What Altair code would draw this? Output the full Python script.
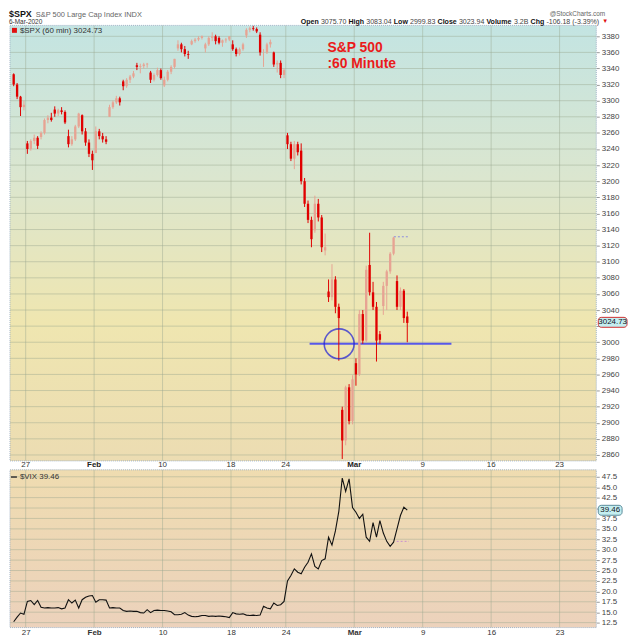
import altair as alt
import pandas as pd

# ---------------- data ----------------
days = ["Jan 24", "Jan 27", "Jan 28", "Jan 29", "Jan 30", "Jan 31",
        "Feb 3", "Feb 4", "Feb 5", "Feb 6", "Feb 7",
        "Feb 10", "Feb 11", "Feb 12", "Feb 13", "Feb 14",
        "Feb 18", "Feb 19", "Feb 20", "Feb 21",
        "Feb 24", "Feb 25", "Feb 26", "Feb 27", "Feb 28",
        "Mar 2", "Mar 3", "Mar 4", "Mar 5"]
bars_per_day = 4

spx_open = [3333, 3320, 3305, 3292,  3247, 3240, 3250, 3254,  3255, 3260, 3276, 3279,
            3289, 3284, 3288, 3286,  3256, 3246, 3252, 3268,  3282, 3262, 3248, 3234,
            3235, 3262, 3256, 3252,  3280, 3292, 3298, 3303,  3324, 3318, 3326, 3330,
            3344, 3342, 3343, 3345,  3335, 3326, 3332, 3338,  3319, 3326, 3336, 3342,
            3365, 3370, 3364, 3358,  3370, 3374, 3376, 3378,  3365, 3370, 3378, 3380,
            3378, 3372, 3375, 3376,  3370, 3364, 3358, 3364,  3381, 3388, 3390, 3389,
            3382, 3360, 3360, 3370,  3360, 3345, 3347, 3332,  3257, 3246, 3228, 3246,
            3238, 3200, 3172, 3152,  3139, 3172, 3155, 3114,  3063, 3056, 3078, 3044,
            2916, 2878, 2944, 2902,  2974, 2960, 3035, 3002,  3096, 3062, 3044, 3010,
            3045, 3070, 3088, 3110,  3076, 3044, 3064, 3032]
spx_high = [3334, 3322, 3306, 3300,  3250, 3252, 3258, 3256,  3262, 3278, 3282, 3285,
            3293, 3290, 3292, 3288,  3264, 3256, 3270, 3285,  3283, 3266, 3252, 3238,
            3268, 3265, 3260, 3256,  3295, 3300, 3306, 3305,  3326, 3328, 3332, 3337,
            3347, 3346, 3347, 3347,  3337, 3334, 3341, 3340,  3330, 3338, 3344, 3352,
            3375, 3372, 3368, 3362,  3376, 3378, 3380, 3381,  3372, 3380, 3385, 3382,
            3380, 3376, 3378, 3380,  3375, 3366, 3366, 3372,  3390, 3392, 3393, 3391,
            3385, 3364, 3372, 3376,  3361, 3350, 3350, 3340,  3260, 3249, 3250, 3249,
            3247, 3204, 3176, 3156,  3182, 3178, 3158, 3135,  3078, 3097, 3082, 3048,
            2920, 2946, 2948, 2959,  2980, 3040, 3040, 3095,  3136, 3075, 3050, 3014,
            3075, 3090, 3112, 3131,  3083, 3068, 3066, 3038]
spx_low = [3318, 3302, 3281, 3288,  3234, 3238, 3246, 3240,  3252, 3258, 3272, 3274,
           3280, 3281, 3283, 3271,  3242, 3244, 3250, 3266,  3258, 3244, 3230, 3214,
           3235, 3252, 3248, 3246,  3280, 3290, 3296, 3294,  3313, 3316, 3322, 3328,
           3338, 3334, 3340, 3341,  3322, 3324, 3330, 3326,  3317, 3324, 3333, 3340,
           3362, 3360, 3355, 3352,  3369, 3372, 3374, 3376,  3360, 3368, 3374, 3370,
           3370, 3367, 3372, 3374,  3362, 3355, 3356, 3362,  3378, 3385, 3387, 3384,
           3356, 3342, 3358, 3366,  3342, 3335, 3328, 3328,  3240, 3225, 3215, 3232,
           3196, 3168, 3148, 3118,  3136, 3150, 3112, 3108,  3050, 3052, 3036, 2977,
           2855, 2872, 2898, 2898,  2946, 2958, 2998, 3000,  3058, 3040, 2976, 2998,
           3034, 3040, 3085, 3108,  3040, 3040, 3024, 3000]
spx_close = [3320, 3305, 3292, 3295,  3240, 3250, 3254, 3244,  3260, 3276, 3279, 3276,
             3284, 3288, 3286, 3273,  3246, 3252, 3268, 3284,  3262, 3248, 3234, 3226,
             3262, 3256, 3252, 3249,  3292, 3298, 3303, 3298,  3318, 3326, 3330, 3334,
             3342, 3343, 3345, 3346,  3326, 3332, 3338, 3328,  3326, 3336, 3342, 3352,
             3370, 3364, 3358, 3357,  3374, 3376, 3378, 3380,  3370, 3378, 3380, 3374,
             3372, 3375, 3376, 3380,  3364, 3358, 3364, 3370,  3388, 3390, 3389, 3386,
             3360, 3360, 3370, 3373,  3345, 3347, 3332, 3338,  3246, 3228, 3246, 3236,
             3200, 3172, 3152, 3128,  3172, 3155, 3118, 3118,  3056, 3078, 3044, 3030,
             2878, 2944, 2902, 2954,  2960, 3035, 3002, 3090,  3062, 3044, 3002, 3003,
             3070, 3088, 3110, 3130,  3044, 3064, 3030, 3024]
vix = [12.7, 13.8, 14.8, 14.5,  17.6, 17.8, 16.8, 17.8,  16.2, 16.0, 16.1, 16.0,
       16.0, 16.1, 15.8, 16.0,  18.0, 17.2, 17.9, 16.0,  18.0, 18.6, 18.9, 19.0,
       17.4, 18.0, 18.0, 17.9,  16.0, 16.1, 16.0, 16.0,  15.4, 15.2, 15.3, 15.2,
       15.2, 14.9, 14.8, 15.6,  14.9, 15.4, 15.5, 15.4,  15.4, 15.3, 15.1, 14.4,
       14.4, 14.5, 14.9, 14.3,  14.0, 13.9, 14.0, 14.2,  14.2, 14.0, 14.1, 14.0,
       14.1, 14.0, 13.9, 13.7,  14.9, 14.6, 14.5, 14.6,  14.3, 14.2, 14.3, 14.2,
       14.3, 16.4, 16.0, 15.8,  17.2, 16.6, 16.8, 17.6,  22.5, 23.8, 25.4, 24.6,
       24.2, 25.8, 27.0, 29.0,  26.0, 25.4, 27.4, 27.8,  33.0, 31.1, 34.5, 39.2,
       47.2, 44.0, 47.0, 40.1,  39.0, 37.5, 38.5, 33.0,  32.0, 36.5, 33.0, 37.0,
       34.0, 32.0, 30.8, 31.8,  35.0, 38.2, 40.2, 39.5]

x_tick_days = [1, 6, 11, 16, 20, 25, 30, 35, 40]
x_tick_labels = ["27", "Feb", "10", "18", "24", "Mar", "9", "16", "23"]
spx_ticks = [2860, 2880, 2900, 2920, 2940, 2960, 2980, 3000, 3020, 3040, 3060, 3080,
             3100, 3120, 3140, 3160, 3180, 3200, 3220, 3240, 3260, 3280, 3300, 3320,
             3340, 3360, 3380]
vix_ticks = [12.5, 15.0, 17.5, 20.0, 22.5, 25.0, 27.5, 30.0, 32.5, 35.0, 37.5,
             40.0, 42.5, 45.0, 47.5]
spx_last = 3024.73
vix_last = 39.46
support_level = 2998
support_from, support_to = 21.74, 32.1
circle_day = 23.9
high_mark = 3131
vix_mark = 32.0
quote_parts = [("Open", True), ("3075.70", False), ("High", True), ("3083.04", False),
               ("Low", True), ("2999.83", False), ("Close", True), ("3023.94", False),
               ("Volume", True), ("3.2B", False), ("Chg", True), ("-106.18 (-3.39%)", False)]

# ---------------- layout ----------------
W = 591
H_TOP = 439
VIX_TOP = 448
H = 607
FONT = "Liberation Sans"
GRID = "#9aa88f"

rows = []
for i in range(len(spx_close)):
    d, k = divmod(i, bars_per_day)
    o, c = spx_open[i], spx_close[i]
    rows.append({
        "xc": d + (k + 0.5) / bars_per_day,
        "xa": d + k / bars_per_day + 0.04,
        "xb": d + (k + 1) / bars_per_day - 0.04,
        "low": spx_low[i], "high": spx_high[i],
        "lo": min(o, c), "hi": max(o, c),
        "dir": "down" if c < o else "up",
        "vix": vix[i],
    })
df = pd.DataFrame(rows)
one = pd.DataFrame({"a": [0]})

xs = alt.Scale(domain=[-0.1449, 42.681], nice=False, zero=False)
label_expr = "".join(f"datum.value == {d} ? '{l}' : " for d, l in zip(x_tick_days, x_tick_labels)) + "''"
x_axis = alt.Axis(values=x_tick_days, labelExpr=label_expr, grid=False, ticks=False, domain=False,
                  title=None, labelFont=FONT, labelFontSize=8, labelColor="#333", labelPadding=1,
                  labelFontWeight={"condition": {"test": "datum.value == 6 || datum.value == 25", "value": "bold"},
                                   "value": "normal"})
spx_scale = alt.Scale(domain=[2852.61, 3393.55], range=[H_TOP, 0], nice=False, zero=False)
vix_scale = alt.Scale(domain=[11.31, 49.167], range=[H, VIX_TOP], nice=False, zero=False)
spx_axis = alt.Axis(orient="right", values=spx_ticks, format="d", grid=False, domain=False,
                    labelExpr="datum.value == 3020 ? '' : datum.label",
                    tickSize=3, tickColor="#999", labelFont=FONT, labelFontSize=8, labelColor="#444",
                    labelPadding=2, title=None)
vix_axis = alt.Axis(orient="right", values=vix_ticks, format=".1f", grid=False, domain=False,
                    labelExpr="datum.value == 40 ? '' : datum.label",
                    tickSize=3, tickColor="#999", labelFont=FONT, labelFontSize=8, labelColor="#444",
                    labelPadding=2, title=None)
color_scale = alt.Scale(domain=["down", "up"], range=["#e00000", "#e7a393"])


def X(field):
    return alt.X(f"{field}:Q", scale=xs, axis=x_axis)


def txt(s, x, y, size=8, weight="normal", color="#333", align="left", baseline="middle"):
    return alt.Chart(one).mark_text(text=s, fontSize=size, fontWeight=weight, color=color, align=align,
                                    baseline=baseline, font=FONT).encode(x=alt.value(x), y=alt.value(y))


def box(x0, x1, y0, y1, **kw):
    return alt.Chart(one).mark_rect(**kw).encode(x=alt.value(x0), x2=alt.value(x1), y=alt.value(y0), y2=alt.value(y1))


# approximate Arial advance widths (em) for laying out the quote line
REG = {".": 0.278, " ": 0.278, "-": 0.333, "(": 0.333, ")": 0.333, "%": 0.889, "B": 0.667}
BOLD = {"O": 0.778, "p": 0.611, "e": 0.556, "n": 0.611, "H": 0.722, "i": 0.278, "g": 0.611,
        "h": 0.611, "L": 0.611, "o": 0.611, "w": 0.778, "C": 0.722, "l": 0.278, "s": 0.556,
        "V": 0.667, "u": 0.611, "m": 0.889}


def text_width(s, bold, size):
    table = BOLD if bold else REG
    return sum(table.get(ch, 0.556) for ch in s) * size


top_bg = box(0, W, 0, H_TOP, color=alt.Gradient(
    gradient="linear", x1=0, x2=0, y1=0, y2=1,
    stops=[alt.GradientStop(color="#c3e4e2", offset=0),
           alt.GradientStop(color="#dbe6cf", offset=0.35),
           alt.GradientStop(color="#efe6b0", offset=0.68),
           alt.GradientStop(color="#ecdcb2", offset=1)]))
vix_bg = box(0, W, VIX_TOP, H, color=alt.Gradient(
    gradient="linear", x1=0, x2=0, y1=0, y2=1,
    stops=[alt.GradientStop(color="#efdcb0", offset=0),
           alt.GradientStop(color="#ecd2bc", offset=1)]))

grid_df = pd.DataFrame({"d": x_tick_days, "lab": x_tick_labels})
xgrid_top = alt.Chart(grid_df).mark_rule(color=GRID, opacity=0.45).encode(
    x=X("d"), y=alt.value(0), y2=alt.value(H_TOP))
xgrid_vix = alt.Chart(grid_df).mark_rule(color=GRID, opacity=0.45).encode(
    x=X("d"), y=alt.value(VIX_TOP), y2=alt.value(H))
mid_norm = alt.Chart(grid_df).transform_filter("datum.lab != 'Feb' && datum.lab != 'Mar'").mark_text(
    font=FONT, fontSize=8, color="#333", baseline="middle").encode(x=X("d"), y=alt.value(443), text="lab:N")
mid_bold = alt.Chart(grid_df).transform_filter("datum.lab == 'Feb' || datum.lab == 'Mar'").mark_text(
    font=FONT, fontSize=8, fontWeight="bold", color="#222", baseline="middle").encode(
    x=X("d"), y=alt.value(443), text="lab:N")

# ---------------- SPX panel ----------------
spx_grid = alt.Chart(pd.DataFrame({"t": spx_ticks})).mark_rule(color=GRID, opacity=0.45).encode(
    y=alt.Y("t:Q", scale=spx_scale, axis=spx_axis), x=alt.value(0), x2=alt.value(W))
wicks = alt.Chart(df).mark_rule(strokeWidth=1).encode(
    x=X("xc"), y=alt.Y("low:Q", scale=spx_scale, axis=spx_axis), y2="high:Q",
    color=alt.Color("dir:N", scale=color_scale, legend=None))
bodies = alt.Chart(df).mark_rect().encode(
    x=X("xa"), x2="xb", y=alt.Y("lo:Q", scale=spx_scale, axis=spx_axis), y2="hi:Q",
    color=alt.Color("dir:N", scale=color_scale, legend=None))
support = alt.Chart(pd.DataFrame({"a": [support_from], "b": [support_to], "p": [support_level]})).mark_rule(
    color="#5858ea", strokeWidth=2).encode(x=X("a"), x2="b", y=alt.Y("p:Q", scale=spx_scale, axis=spx_axis))
circle = alt.Chart(pd.DataFrame({"d": [circle_day], "p": [support_level]})).mark_point(
    shape="circle", size=908, filled=False, color="#1c1cd8", strokeWidth=1.6).encode(
    x=X("d"), y=alt.Y("p:Q", scale=spx_scale, axis=spx_axis))
hi_mark = alt.Chart(pd.DataFrame({"a": [27.9], "b": [29.0], "p": [high_mark]})).mark_rule(
    color="#8c8ce0", strokeDash=[2, 2]).encode(x=X("a"), x2="b", y=alt.Y("p:Q", scale=spx_scale, axis=spx_axis))
note = alt.Chart(pd.DataFrame({"d": [23.04, 23.04], "p": [3366, 3345.5], "s": ["S&P 500", ":60 Minute"]})).mark_text(
    font=FONT, fontSize=14, fontWeight="bold", color="#ea1a1a", align="left", baseline="middle").encode(
    x=X("d"), y=alt.Y("p:Q", scale=spx_scale, axis=spx_axis), text="s:N")
tag_df = pd.DataFrame({"p": [spx_last], "s": [f"{spx_last:.2f}"]})
spx_tag = alt.Chart(tag_df).mark_rect(yOffset=-5, y2Offset=5, fill="#c4eef0", stroke="#d03030",
                                      strokeWidth=1, cornerRadius=3).encode(
    x=alt.value(W + 2), x2=alt.value(W + 31), y=alt.Y("p:Q", scale=spx_scale, axis=spx_axis), y2="p:Q")
spx_tag_t = alt.Chart(tag_df).mark_text(font=FONT, fontSize=8, color="#112", align="center", baseline="middle").encode(
    x=alt.value(W + 16.5), y=alt.Y("p:Q", scale=spx_scale, axis=spx_axis), text="s:N")
spx_group = alt.layer(spx_grid, support, wicks, bodies, circle, hi_mark, note, spx_tag, spx_tag_t)

# ---------------- VIX panel ----------------
vix_grid = alt.Chart(pd.DataFrame({"t": vix_ticks})).mark_rule(color=GRID, opacity=0.45).encode(
    y=alt.Y("t:Q", scale=vix_scale, axis=vix_axis), x=alt.value(0), x2=alt.value(W))
vix_line = alt.Chart(df).mark_line(color="#111", strokeWidth=1.1).encode(
    x=X("xc"), y=alt.Y("vix:Q", scale=vix_scale, axis=vix_axis))
vix_m = alt.Chart(pd.DataFrame({"a": [28.1], "b": [29.0], "p": [vix_mark]})).mark_rule(
    color="#c890d0", strokeDash=[2, 2]).encode(x=X("a"), x2="b", y=alt.Y("p:Q", scale=vix_scale, axis=vix_axis))
vtag_df = pd.DataFrame({"p": [vix_last], "s": [f"{vix_last:.2f}"]})
vix_tag = alt.Chart(vtag_df).mark_rect(yOffset=-5, y2Offset=5, fill="#c4eef0", stroke="#5a8a9a",
                                       strokeWidth=1, cornerRadius=3).encode(
    x=alt.value(W + 2), x2=alt.value(W + 26), y=alt.Y("p:Q", scale=vix_scale, axis=vix_axis), y2="p:Q")
vix_tag_t = alt.Chart(vtag_df).mark_text(font=FONT, fontSize=8, color="#112", align="center", baseline="middle").encode(
    x=alt.value(W + 14), y=alt.Y("p:Q", scale=vix_scale, axis=vix_axis), text="s:N")
vix_group = alt.layer(vix_grid, vix_line, vix_m, vix_tag, vix_tag_t)

# ---------------- frames & header ----------------
border_kw = dict(fillOpacity=0, stroke="#9fb2c6", strokeWidth=1, strokeDash=[1, 1])
frames = [box(0, W, 0, H_TOP, **border_kw), box(0, W, VIX_TOP, H, **border_kw)]

header = [
    txt("$SPX", -1, -8.5, size=9, weight="bold", color="#111", baseline="alphabetic"),
    txt("S&P 500 Large Cap Index INDX", 26, -8.5, size=7.5, color="#666", baseline="alphabetic"),
    txt("6-Mar-2020", -1, -1, size=6.5, color="#333", baseline="alphabetic"),
    txt("@StockCharts.com", 600, -9.5, size=6.5, color="#666", align="right", baseline="alphabetic"),
    box(2, 7, 2.5, 7.5, color="#e01010"),
    txt("$SPX (60 min) 3024.73", 10, 5.5, size=8, color="#333"),
    box(1, 7, 454.5, 456, color="#333"),
    txt("$VIX 39.46", 10, 455, size=8, color="#333"),
]
QSIZE = 7.1
gap = 0.3 * QSIZE
widths = [text_width(s, b, QSIZE) for s, b in quote_parts]
xq = 594 - (sum(widths) + gap * (len(widths) - 1))
for (s, b), w in zip(quote_parts, widths):
    header.append(txt(s, xq, -1.5, size=QSIZE, weight="bold" if b else "normal",
                      color="#111" if b else "#444", baseline="alphabetic"))
    xq += w + gap
header.append(txt("\u25bc", 597, -2, size=6, color="#e01010", baseline="alphabetic"))

chart = alt.layer(
    top_bg, vix_bg, xgrid_top, xgrid_vix, spx_group, vix_group, mid_norm, mid_bold, *frames, *header
).resolve_scale(y="independent").properties(
    width=W, height=H,
    autosize=alt.AutoSizeParams(type="none"),
    padding={"left": 2, "top": 15, "right": 36, "bottom": 10},
).configure_view(stroke=None)

chart.save("out.html", embed_options={"renderer": "svg", "actions": False})
